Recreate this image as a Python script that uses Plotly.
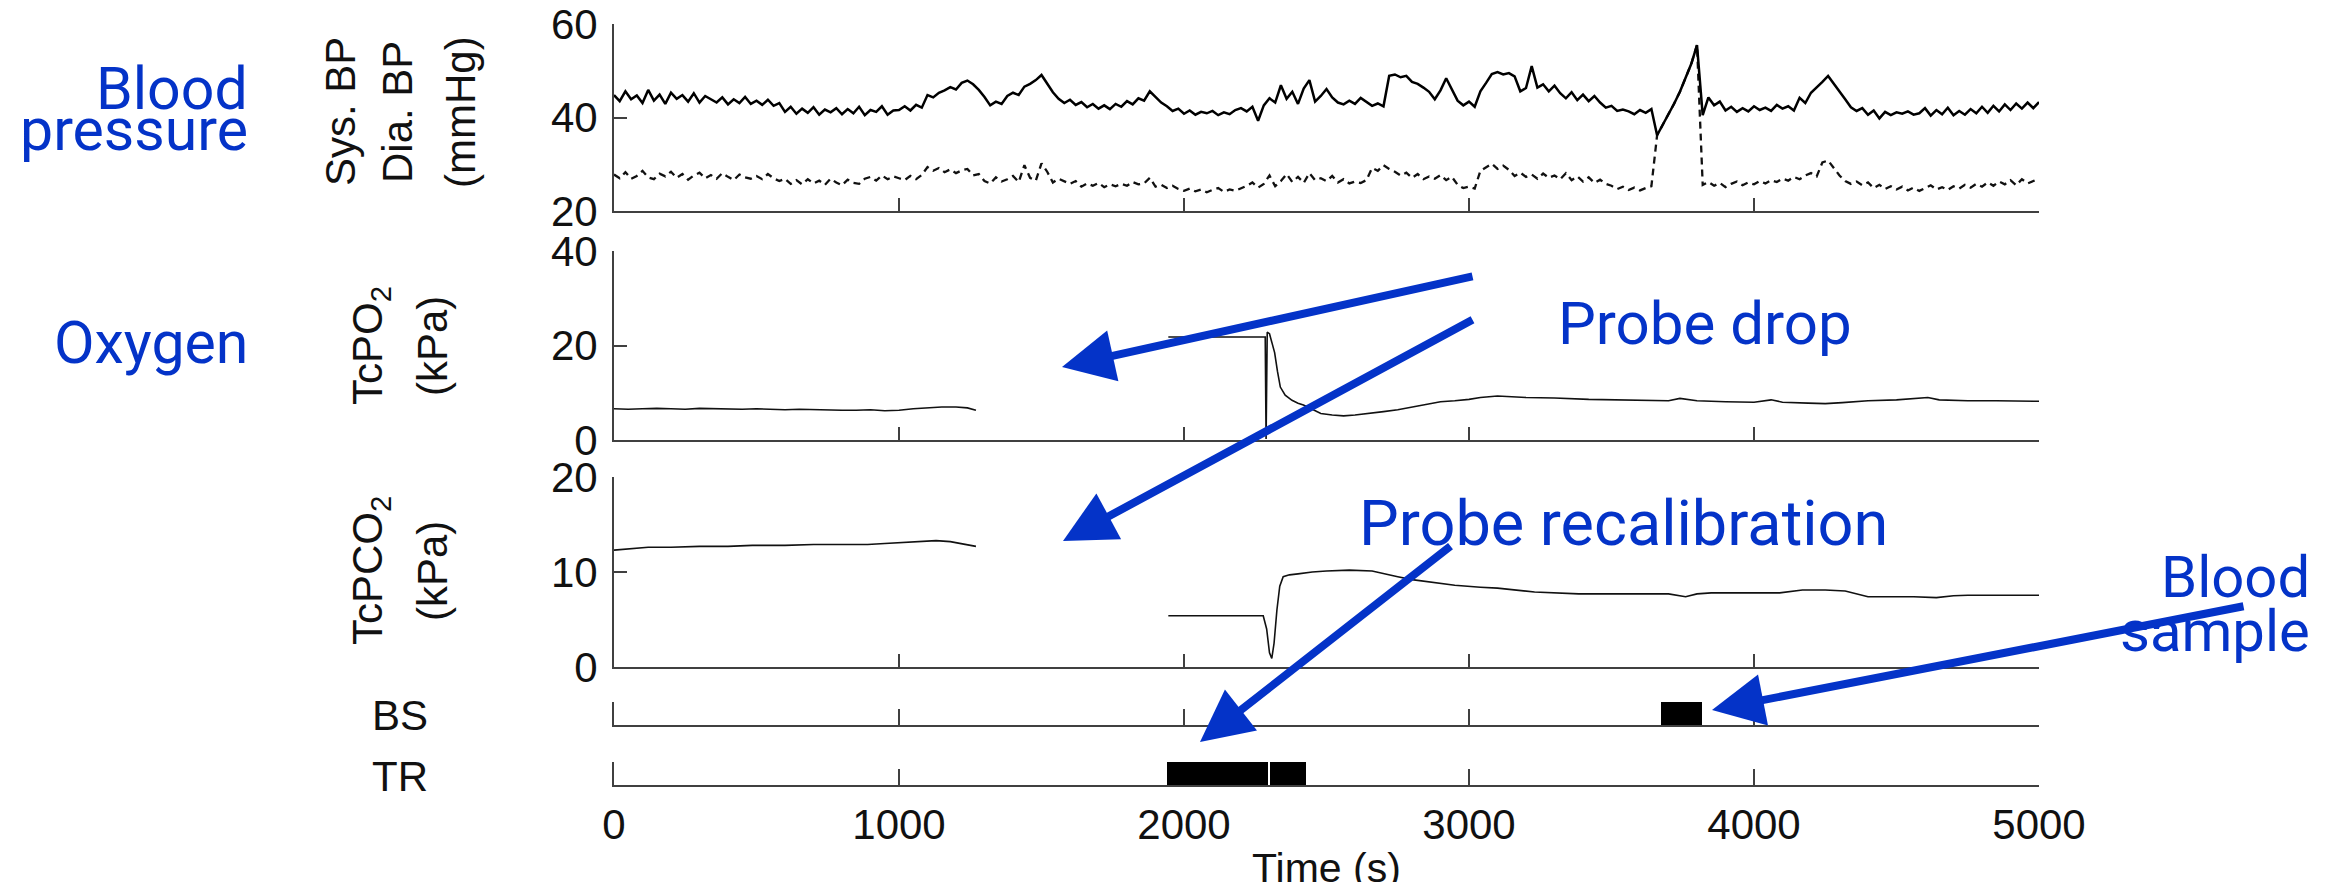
import plotly.graph_objects as go

# --- 1. DATA ---
bp_time = list(range(0, 5001, 20))

sys_bp = [
    44.8, 43.5, 45.6, 43.9, 44.7, 43.1, 45.9, 43.6, 44.9, 42.9, 45.3, 44.0, 44.8, 43.4, 45.2, 43.2, 44.6, 43.9, 43.2, 44.3, 42.8, 43.9, 43.1, 44.4, 42.9,
    43.6, 42.7, 43.8, 42.5, 43.1, 41.2, 42.3, 40.8, 41.9, 41.0, 42.2, 40.6, 41.7, 41.1, 42.0, 40.7, 41.8, 40.9, 42.3, 40.5, 41.6, 41.2, 42.4, 40.6, 41.5,
    41.6, 42.4, 41.5, 42.7, 42.1, 44.8, 44.3, 45.3, 45.8, 46.5, 46.0, 47.4, 47.9, 47.1, 45.9, 44.4, 42.6, 43.4, 42.9, 44.6, 45.3, 44.8, 46.6, 47.2, 48.0,
    49.1, 47.2, 45.4, 44.0, 43.1, 43.8, 42.7, 43.3, 42.2, 42.9, 41.9, 42.6, 41.8, 42.9, 42.3, 43.5, 42.8, 44.1, 43.6, 45.6, 44.5, 43.2, 42.4, 41.4, 41.9,
    40.8, 41.5, 40.6, 41.2, 40.9, 41.4, 40.5, 41.1, 40.7, 41.6, 42.0, 41.3, 42.3, 39.3, 42.6, 44.1, 43.2, 46.9, 44.0, 45.5, 42.9, 46.2, 48.0, 43.4, 44.6,
    46.1, 44.3, 43.2, 42.8, 43.6, 42.9, 44.2, 43.3, 42.5, 43.0, 42.4, 48.9, 49.2, 48.6, 48.9, 47.6, 47.2, 46.4, 45.5, 43.9, 45.8, 48.4, 46.1, 43.6, 42.6,
    43.4, 42.3, 45.6, 47.4, 49.3, 49.7, 49.2, 49.5, 48.8, 45.6, 46.3, 51.0, 46.4, 47.1, 45.6, 46.8, 45.2, 44.1, 45.4, 43.7, 44.9, 43.5, 44.6, 43.2, 42.1,
    42.5, 41.4, 41.7, 41.3, 40.7, 41.6, 41.0, 41.8, 36.2, 38.5, 40.5, 43.0, 45.5, 48.5, 51.5, 55.5, 40.5, 44.3, 42.6, 43.4, 41.5, 42.3, 41.2, 42.0, 41.3,
    42.4, 41.6, 42.1, 41.4, 42.7, 41.9, 42.4, 41.5, 44.2, 43.1, 45.3, 46.4, 47.6, 48.9, 47.3, 45.6, 43.9, 42.2, 41.4, 42.0, 40.6, 41.5, 39.8, 41.2, 40.5,
    41.1, 40.8, 41.3, 40.6, 40.9, 42.0, 40.4, 41.6, 40.7, 42.1, 40.5, 41.4, 40.6, 41.8, 40.9, 42.3, 41.0, 42.5, 41.3, 42.8, 41.6, 43.0, 41.9, 43.2, 42.0,
    43.3,
]

dia_bp = [
    27.8, 27.0, 28.3, 26.9, 27.5, 28.6, 27.2, 26.8, 28.0, 27.4, 28.4, 27.1, 27.9, 26.7, 27.6, 28.2, 27.0, 27.7, 26.9, 28.1, 27.3, 26.6, 27.8, 27.2, 26.9,
    27.5, 26.8, 27.9, 27.0, 26.4, 26.9, 25.8, 26.6, 25.7, 26.8, 25.9, 26.5, 25.6, 26.9, 26.1, 25.5, 26.7, 26.0, 25.8, 26.9, 27.3, 26.5, 27.6, 26.8, 27.4,
    27.0, 26.6, 27.5, 26.8, 27.7, 29.4, 28.6, 29.2, 28.3, 28.9, 28.1, 28.7, 29.0, 27.6, 27.9, 26.4, 25.9, 27.2, 26.3, 26.8, 27.5, 26.2, 29.8, 27.1, 26.5,
    30.2, 28.4, 26.1, 26.9, 26.3, 25.8, 26.4, 25.2, 25.9, 25.4, 26.0, 25.1, 25.7, 25.3, 25.8, 25.4, 26.2, 25.7, 25.9, 27.1, 25.2, 25.6, 24.9, 25.4, 24.7,
    24.3, 24.8, 24.2, 24.6, 24.0, 24.5, 24.9, 24.1, 24.6, 24.3, 24.8, 25.4, 26.1, 25.0, 25.8, 27.6, 25.3, 26.4, 27.9, 26.2, 27.3, 26.0, 28.1, 26.6, 27.0,
    26.4, 27.5, 26.1, 26.8, 25.9, 26.3, 26.0, 26.6, 29.2, 28.6, 29.8, 29.0, 28.4, 27.6, 28.2, 27.1, 27.9, 26.8, 27.4, 26.9, 27.7, 26.6, 27.3, 25.6, 24.9,
    25.2, 24.8, 28.6, 29.4, 30.1, 29.0, 29.7, 28.8, 27.5, 28.2, 27.3, 27.8, 26.9, 28.0, 27.1, 27.6, 26.8, 28.1, 26.6, 27.4, 26.3, 27.2, 26.0, 26.7, 25.8,
    25.4, 24.7, 25.2, 24.5, 25.0, 24.4, 24.9, 25.3, 36.2, 38.5, 40.5, 43.0, 45.5, 48.5, 51.5, 55.5, 25.6, 26.2, 25.4, 26.0, 25.1, 25.8, 26.3, 25.5, 26.1,
    25.7, 26.4, 25.9, 26.6, 26.2, 26.9, 26.5, 27.3, 26.8, 27.6, 28.1, 27.4, 30.4, 30.8, 29.2, 27.6, 26.4, 25.8, 26.3, 25.5, 26.1, 24.9, 25.6, 24.7, 25.3,
    24.6, 25.2, 24.4, 25.0, 24.3, 24.9, 25.5, 24.6, 25.1, 24.5, 25.3, 24.8, 25.6, 25.0, 25.8, 25.2, 26.1, 25.4, 26.3, 25.7, 26.6, 25.5, 26.8, 25.9, 26.4,
    26.9,
]

# TcPO2: gap between the two recordings (None)
po2_time = [0, 50, 100, 150, 200, 250, 300, 350, 400, 450, 500, 550, 600, 650, 700, 750, 800, 850, 900, 950,
            1000, 1050, 1100, 1150, 1200, 1240, 1270, None,
            1945, 2000, 2100, 2200, 2285, 2288, 2292, 2300, 2310, 2318, 2328, 2338, 2355, 2379, 2400, 2419,
            2450, 2480, 2520, 2560, 2600, 2650, 2700, 2750, 2800, 2850, 2900, 2950, 3000, 3040, 3100, 3200,
            3300, 3420, 3500, 3600, 3700, 3740, 3800, 3900, 4000, 4060, 4100, 4190, 4250, 4310, 4400, 4500,
            4610, 4650, 4750, 4850, 4950, 5000]
po2_vals = [6.6, 6.5, 6.6, 6.7, 6.6, 6.5, 6.7, 6.6, 6.6, 6.5, 6.6, 6.5, 6.4, 6.5, 6.4, 6.4, 6.3, 6.3, 6.4, 6.2,
            6.3, 6.6, 6.8, 7.0, 7.0, 6.8, 6.3, None,
            21.8, 21.8, 21.8, 21.8, 21.8, 0.2, 22.8, 22.5, 20.5, 18.5, 14.5, 11.2, 9.5, 8.4, 7.8, 7.4,
            6.5, 5.6, 5.3, 5.1, 5.3, 5.6, 6.0, 6.4, 7.0, 7.5, 8.1, 8.3, 8.6, 9.0, 9.3, 9.0,
            8.9, 8.6, 8.5, 8.4, 8.3, 8.8, 8.3, 8.1, 8.0, 8.5, 8.0, 7.8, 7.7, 7.9, 8.3, 8.5,
            9.0, 8.5, 8.3, 8.3, 8.2, 8.2]

pco2_time = [0, 50, 120, 200, 300, 400, 485, 600, 700, 800, 890, 950, 1000, 1070, 1130, 1180, 1230, 1270, None,
             1945, 2100, 2278, 2290, 2300, 2308, 2316, 2326, 2336, 2348, 2370, 2400, 2450, 2500, 2580, 2660,
             2700, 2750, 2800, 2850, 2900, 2950, 3040, 3100, 3230, 3300, 3385, 3500, 3600, 3700, 3760, 3800,
             3850, 3950, 4090, 4170, 4250, 4320, 4400, 4500, 4560, 4640, 4700, 4750, 4850, 5000]
pco2_vals = [12.3, 12.4, 12.6, 12.6, 12.7, 12.7, 12.8, 12.8, 12.9, 12.9, 12.9, 13.0, 13.1, 13.2, 13.3, 13.2, 12.9, 12.7, None,
             5.4, 5.4, 5.4, 4.0, 1.5, 0.9, 2.5, 6.0, 8.5, 9.5, 9.7, 9.8, 10.0, 10.1, 10.2, 10.1,
             9.8, 9.5, 9.2, 9.0, 8.8, 8.6, 8.4, 8.3, 7.9, 7.8, 7.7, 7.7, 7.7, 7.7, 7.4, 7.7,
             7.8, 7.8, 7.8, 8.1, 8.1, 8.0, 7.4, 7.4, 7.4, 7.3, 7.5, 7.55, 7.55, 7.55]

# event markers: blood sample (BS) and transcutaneous recalibration (TR)
bs_start = [3672]
bs_end = [3816]
tr_start = [1940, 2302]
tr_end = [2296, 2428]

time_ticks = [0, 1000, 2000, 3000, 4000, 5000]

# --- 2. LAYOUT HELPERS (page pixel -> paper) ---
# the page body keeps its default 8px margin, so the figure is drawn 8px in
# from the top-left corner and is made 16px smaller to fit the window
W, H = 2339, 890
OFF = 8
FW, FH = W - 2 * OFF, H - 2 * OFF
BLUE = "#0433C8"
AXC = "#404040"
TICKFONT = dict(family="Liberation Sans, Arial", size=42, color="#111")


def px(x):
    return (x - OFF) / FW


def py(y):
    return 1 - (y - OFF) / FH


x_dom = [px(614), px(2039)]
y_doms = {
    "y": [py(211), py(24)],
    "y2": [py(440), py(251)],
    "y3": [py(667), py(477)],
    "y4": [py(725), py(702)],
    "y5": [py(785), py(762)],
}

fig = go.Figure()

# --- 3. TRACES ---
fig.add_trace(go.Scatter(x=bp_time, y=dia_bp, mode="lines", xaxis="x", yaxis="y",
                         line=dict(color="#111", width=2.3, dash="7px,5px")))
fig.add_trace(go.Scatter(x=bp_time, y=sys_bp, mode="lines", xaxis="x", yaxis="y",
                         line=dict(color="#000", width=2.5)))
fig.add_trace(go.Scatter(x=po2_time, y=po2_vals, mode="lines", xaxis="x2", yaxis="y2",
                         line=dict(color="#111", width=1.6), connectgaps=False))
fig.add_trace(go.Scatter(x=pco2_time, y=pco2_vals, mode="lines", xaxis="x3", yaxis="y3",
                         line=dict(color="#111", width=1.6), connectgaps=False))

bs_mid = [(a + b) / 2 for a, b in zip(bs_start, bs_end)]
bs_w = [b - a for a, b in zip(bs_start, bs_end)]
tr_mid = [(a + b) / 2 for a, b in zip(tr_start, tr_end)]
tr_w = [b - a for a, b in zip(tr_start, tr_end)]
fig.add_trace(go.Bar(x=bs_mid, y=[1] * len(bs_mid), width=bs_w, xaxis="x4", yaxis="y4",
                     marker=dict(color="#000", line=dict(width=0))))
fig.add_trace(go.Bar(x=tr_mid, y=[1] * len(tr_mid), width=tr_w, xaxis="x5", yaxis="y5",
                     marker=dict(color="#000", line=dict(width=0))))

# --- 4. AXES ---
xbase = dict(domain=x_dom, range=[0, 5000], tickvals=time_ticks, ticks="inside", ticklen=13,
             tickwidth=2, tickcolor=AXC, showline=True, linecolor=AXC, linewidth=2,
             showgrid=False, zeroline=False, showticklabels=False, tickfont=TICKFONT,
             automargin=False, ticklabeloverflow="allow")
ybase = dict(ticks="inside", ticklen=13, tickwidth=2, tickcolor=AXC, showline=True, linecolor=AXC,
             linewidth=2, showgrid=False, zeroline=False, tickfont=TICKFONT, ticklabelstandoff=6,
             automargin=False, ticklabeloverflow="allow")

fig.update_layout(
    xaxis=dict(xbase, anchor="y"),
    xaxis2=dict(xbase, anchor="y2", matches="x"),
    xaxis3=dict(xbase, anchor="y3", matches="x"),
    xaxis4=dict(xbase, anchor="y4", matches="x", ticklen=16, tickwidth=1.5, layer="below traces"),
    xaxis5=dict(xbase, anchor="y5", matches="x", ticklen=16, tickwidth=1.5, layer="below traces",
                showticklabels=True, ticklabelstandoff=2),
    yaxis=dict(ybase, domain=y_doms["y"], anchor="x", range=[20, 60], tickvals=[20, 40, 60]),
    yaxis2=dict(ybase, domain=y_doms["y2"], anchor="x2", range=[0, 40], tickvals=[0, 20, 40]),
    yaxis3=dict(ybase, domain=y_doms["y3"], anchor="x3", range=[0, 20], tickvals=[0, 10, 20]),
    yaxis4=dict(ybase, domain=y_doms["y4"], anchor="x4", range=[0, 1], ticks="", showticklabels=False),
    yaxis5=dict(ybase, domain=y_doms["y5"], anchor="x5", range=[0, 1], ticks="", showticklabels=False),
    width=FW, height=FH,
    margin=dict(l=0, r=0, t=0, b=0, autoexpand=False),
    paper_bgcolor="white", plot_bgcolor="white",
    showlegend=False, bargap=0,
)

# --- 5. TEXT LABELS ---
notes = []


def label(text, x, y, size=42, angle=0, color="#111", family="Liberation Sans, Arial", xanchor="center"):
    notes.append(dict(text=text, x=px(x), y=py(y), xref="paper", yref="paper", showarrow=False,
                      textangle=angle, xanchor=xanchor, yanchor="middle",
                      font=dict(family=family, size=size, color=color)))


label("Sys. BP", 340, 112, angle=-90)
label("Dia. BP", 397, 112, angle=-90)
label("(mmHg)", 460, 112, angle=-90)
label("TcPO<sub>2</sub>", 370, 346, angle=-90)
label("(kPa)", 432, 346, angle=-90)
label("TcPCO<sub>2</sub>", 370, 571, angle=-90)
label("(kPa)", 432, 571, angle=-90)
label("BS", 400, 715)
label("TR", 400, 776)
label("Time (s)", 1326, 868, size=41)

BF = "Roboto, Noto Sans"
label("Blood", 250, 88, size=59, color=BLUE, family=BF, xanchor="right")
label("pressure", 250, 129, size=59, color=BLUE, family=BF, xanchor="right")
label("Oxygen", 250, 342, size=59, color=BLUE, family=BF, xanchor="right")
label("Probe drop", 1556, 324, size=60, color=BLUE, family=BF, xanchor="left")
label("Probe recalibration", 1357, 523, size=63, color=BLUE, family=BF, xanchor="left")
label("Blood", 2312, 577, size=58, color=BLUE, family=BF, xanchor="right")
label("sample", 2312, 631, size=58, color=BLUE, family=BF, xanchor="right")

# --- 6. ARROWS (tail -> head, pixels) ---
arrows = [
    ((1474, 276), (1062, 367)),
    ((1474, 319), (1063, 541)),
    ((1452, 545), (1200, 742)),
    ((2245, 606), (1712, 710)),
]
for (tx, ty), (hx, hy) in arrows:
    notes.append(dict(x=px(hx), y=py(hy), xref="paper", yref="paper", text="", showarrow=True,
                      ax=tx - hx, ay=ty - hy, arrowcolor=BLUE, arrowwidth=8, arrowhead=2,
                      arrowsize=1.3, standoff=0))

fig.update_layout(annotations=notes)

fig.write_html("out.html")
